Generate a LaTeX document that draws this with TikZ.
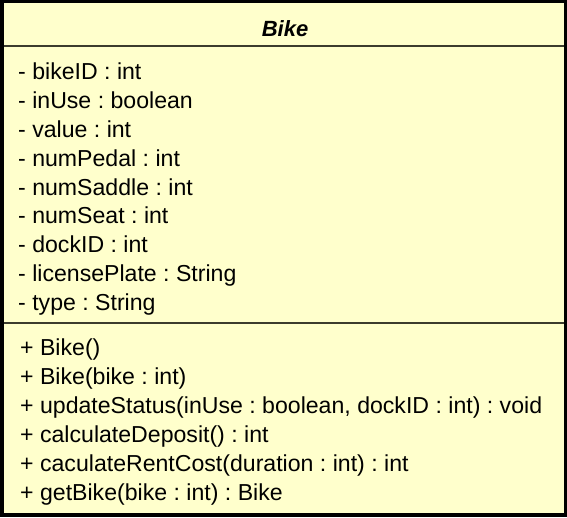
\documentclass[tikz,border=0pt]{standalone}
\usepackage{fontspec}
\setmainfont{Liberation Sans}
\definecolor{umlfill}{RGB}{255,255,204}
\definecolor{sepcol}{RGB}{60,60,45}
\begin{document}
\frenchspacing
\begin{tikzpicture}[x=1pt,y=1pt,
  member/.style={anchor=base west,inner sep=0pt,font=\fontsize{23.1}{26}\selectfont},
  titletext/.style={anchor=base,inner sep=0pt,font=\fontsize{22}{26}\selectfont\bfseries\itshape},
  sepline/.style={draw=sepcol,line width=2pt}]
\useasboundingbox (0,0) rectangle (567,-517);
\fill[black] (0,0) rectangle (567,-517);
\fill[umlfill] (4,-3) rectangle (564,-513);
\draw[sepline] (4,-45.5) -- (564,-45.5);
\draw[sepline] (4,-322.5) -- (564,-322.5);
\node[titletext] (title) at (285,-36) {Bike};
\node[member] (a1) at (18,-79) {- bikeID : int};
\node[member] (a2) at (18,-108) {- inUse : boolean};
\node[member] (a3) at (18,-137) {- value : int};
\node[member] (a4) at (18,-166) {- numPedal : int};
\node[member] (a5) at (18,-195) {- numSaddle : int};
\node[member] (a6) at (18,-223.5) {- numSeat : int};
\node[member] (a7) at (18,-252.5) {- dockID : int};
\node[member] (a8) at (18,-281.5) {- licensePlate : String};
\node[member] (a9) at (18,-310.5) {- type : String};
\node[member] (m1) at (20,-355) {+ Bike()};
\node[member] (m2) at (20,-384) {+ Bike(bike : int)};
\node[member] (m3) at (20,-413) {+ updateStatus(inUse : boolean, dockID : int) : void};
\node[member] (m4) at (20,-442) {+ calculateDeposit() : int};
\node[member] (m5) at (20,-471) {+ caculateRentCost(duration : int) : int};
\node[member] (m6) at (20,-500) {+ getBike(bike : int) : Bike};
\end{tikzpicture}
\end{document}
